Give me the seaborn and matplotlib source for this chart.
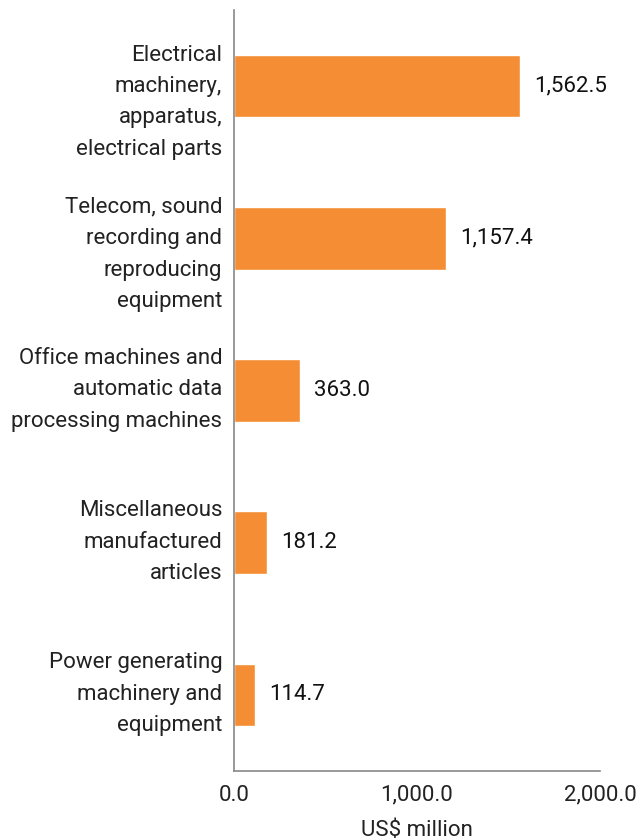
import matplotlib
matplotlib.use("Agg")
import matplotlib.pyplot as plt
import matplotlib.transforms as mtransforms
import seaborn as sns
import pandas as pd

categories = [
    "Electrical\nmachinery,\napparatus,\nelectrical parts",
    "Telecom, sound\nrecording and\nreproducing\nequipment",
    "Office machines and\nautomatic data\nprocessing machines",
    "Miscellaneous\nmanufactured\narticles",
    "Power generating\nmachinery and\nequipment",
]
values = [1562.5, 1157.4, 363.0, 181.2, 114.7]
x_ticks = [0, 1000, 2000]
x_tick_labels = ["0.0", "1,000.0", "2,000.0"]

sns.set_style("white")
plt.rcParams['font.family'] = ['Roboto', 'DejaVu Sans']

df = pd.DataFrame({"cat": categories, "val": values})

fig = plt.figure(figsize=(6.38, 8.4), dpi=100)
ax = fig.add_axes([234/638, 1-771/840, (600-234)/638, (771-10)/840])
sns.barplot(data=df, y="cat", x="val", color="#F58D35", width=0.41, ax=ax, saturation=1)

ax.set_xlim(0, 2000)
ax.set_ylim(4.5, -0.5)
ax.set_xticks(x_ticks)
ax.set_xticklabels(x_tick_labels, fontsize=16, color="#222222")
ax.set_yticks(range(len(categories)))
ax.set_yticklabels(categories, fontsize=16, color="#222222", linespacing=1.65)
ax.set_xlabel("US$ million", fontsize=16, color="#222222", labelpad=10)
ax.set_ylabel("")
for s in ["top", "right"]:
    ax.spines[s].set_visible(False)
for s in ["left", "bottom"]:
    ax.spines[s].set_color("#888888")
    ax.spines[s].set_linewidth(1.2)
ax.tick_params(axis="y", length=5, width=1.2, color="#888888", pad=3.5)
ax.tick_params(axis="x", length=5, width=1.2, color="#888888", pad=5)

# nudge labels vertically (4-line labels sit lower, 3-line slightly higher)
for lbl in ax.get_yticklabels():
    n = lbl.get_text().count("\n") + 1
    dy = -6.0 if n == 4 else 6.0
    lbl.set_transform(lbl.get_transform() +
                      mtransforms.ScaledTranslation(0, dy / 72, fig.dpi_scale_trans))

for i, v in enumerate(values):
    ax.annotate(f"{v:,.1f}", xy=(v, i), xytext=(10, 0), textcoords="offset points",
                va="center", ha="left", fontsize=16, color="#111111")

fig.savefig("out.png", dpi=100)
